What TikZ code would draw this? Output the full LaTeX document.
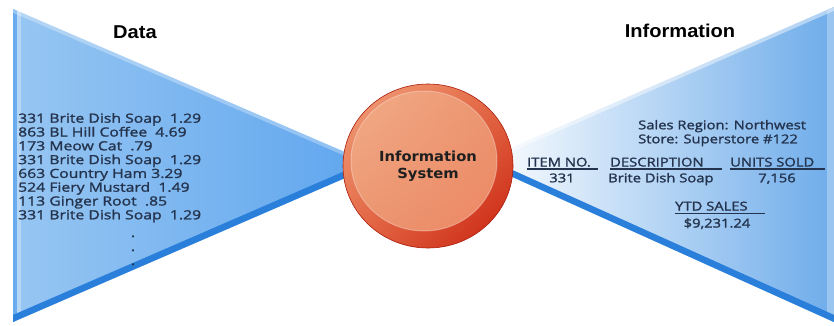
\documentclass[tikz,border=0pt]{standalone}
\usepackage{fontspec}
\usetikzlibrary{shadings}
\newfontfamily\listfont{Open Sans}[FakeStretch=1.25,FakeBold=1.6]
\newfontfamily\rlistfont{Open Sans}[FakeStretch=1.21,FakeBold=1.6]
\newfontfamily\headfont{Liberation Sans}[FakeStretch=1.08]
\newfontfamily\circfont{DejaVu Sans}[FakeStretch=1.06]
\definecolor{txtcol}{HTML}{25344E}
\definecolor{lblA}{HTML}{97C6F2}
\definecolor{lblB}{HTML}{5EA5EE}
\definecolor{bandcol}{HTML}{2A7FDB}
\definecolor{rblA}{HTML}{FFFFFF}
\definecolor{rblB}{HTML}{6EACEA}
\definecolor{ringA}{HTML}{F1A27C}
\definecolor{ringM}{HTML}{E46845}
\definecolor{ringB}{HTML}{C8200C}
\definecolor{diskA}{HTML}{F2AC88}
\definecolor{diskB}{HTML}{EB9670}
\begin{document}
\begin{tikzpicture}[x=1pt,y=-1pt,
  listtxt/.style={font=\listfont\fontsize{12.6}{14}\selectfont, text=txtcol, inner sep=0pt, anchor=base west},
  rtxt/.style={listtxt, font=\rlistfont\fontsize{12.2}{14}\selectfont},
  rc/.style={rtxt, anchor=base},
  listc/.style={listtxt, anchor=base},
  heading/.style={font=\headfont\bfseries\fontsize{18.6}{22}\selectfont, text=black, inner sep=0pt, anchor=base},
  uline/.style={draw=txtcol, line width=1.3pt}]
\useasboundingbox (0,0) rectangle (834,325);
\fill[white] (0,0) rectangle (834,325);

% ---------- left triangle (Data) ----------
\coordinate (LT) at (13,9);
\coordinate (LB) at (13,322);
\coordinate (LA) at (375,165);
\shade[left color=lblA, right color=lblB] (LT) -- (LA) -- (LB) -- cycle;
\begin{scope}
  \clip (LT) -- (LA) -- (LB) -- cycle;
  \fill[lblB!80!lblA] (13,0) rectangle (17,325);
  \fill[white, opacity=0.3] (17,0) rectangle (21,325);
  \draw[white, opacity=0.3, line width=7pt] (LT) -- (LA);
  \draw[bandcol, line width=13pt] (LB) -- (LA);
\end{scope}

% ---------- right triangle (Information) ----------
\coordinate (RT) at (834,7);
\coordinate (RB) at (834,322);
\coordinate (RA) at (479,162);
\shade[left color=rblA, right color=rblB] (RA) -- (RT) -- (RB) -- cycle;
\begin{scope}
  \clip (RA) -- (RT) -- (RB) -- cycle;
  \fill[rblB!70!white] (827,0) rectangle (834,325);
  \draw[white, opacity=0.45, line width=7pt] (RA) -- (RT);
  \draw[bandcol, line width=13pt] (RA) -- (RB);
\end{scope}

% ---------- circle ----------
\shade[upper left=ringA, upper right=ringM, lower left=ringM, lower right=ringB]
  (428,166) ellipse [x radius=85, y radius=82];
\draw[ringB!85!black, line width=0.6pt] (428,166) ellipse [x radius=85, y radius=82];
\shade[upper left=diskA, upper right=diskB, lower left=diskB, lower right=diskB!90!red]
  (424,161) ellipse [x radius=73, y radius=70];
\draw[white, opacity=0.3, line width=1pt] (424,161) ellipse [x radius=73, y radius=70];
\node[font=\circfont\bfseries\fontsize{13.9}{17}\selectfont, text=black!88, align=center, inner sep=0pt] (sys) at (428,166) {Information\\System};

% ---------- headings ----------
\node[heading] (data) at (135,38.3) {Data};
\node[heading] (info) at (680,37.3) {Information};

% ---------- data list ----------
\node[listtxt] (l1) at (18,122.7) {331 Brite Dish Soap\ \ 1.29};
\node[listtxt] (l2) at (18,136.5) {863 BL Hill Coffee\ \ 4.69};
\node[listtxt] (l3) at (18,150.3) {173 Meow Cat\ \ .79};
\node[listtxt] (l4) at (18,164.1) {331 Brite Dish Soap\ \ 1.29};
\node[listtxt] (l5) at (18,177.9) {663 Country Ham 3.29};
\node[listtxt] (l6) at (18,191.7) {524 Fiery Mustard\ \ 1.49};
\node[listtxt] (l7) at (18,205.5) {113 Ginger Root\ \ .85};
\node[listtxt] (l8) at (18,219.3) {331 Brite Dish Soap\ \ 1.29};
\node[listc] (d1) at (133,237) {.};
\node[listc] (d2) at (133,251) {.};
\node[listc] (d3) at (133,265) {.};

% ---------- information report ----------
\node[rtxt] (r1) at (638,129.3) {Sales Region: Northwest};
\node[rtxt] (r2) at (638,143.3) {Store: Superstore \#122};
\node[rtxt] (h1) at (527,166.5) {ITEM NO.};
\node[rtxt] (h2) at (610,166.5) {DESCRIPTION};
\node[rtxt] (h3) at (730,166.5) {UNITS SOLD};
\draw[uline] ([yshift=-2.5pt]h1.base west) -- ++(71,0);
\draw[uline] ([yshift=-2.5pt]h2.base west) -- ++(112,0);
\draw[uline] ([yshift=-2.5pt]h3.base west) -- ++(95,0);
\node[rc] (v1) at (562,182.3) {331};
\node[rtxt] (v2) at (608,182.3) {Brite Dish Soap};
\node[rc] (v3) at (777,182.3) {7,156};
\node[rtxt] (h4) at (675,210.5) {YTD SALES};
\draw[uline] ([yshift=-3pt]h4.base west) -- ++(90,0);
\node[rc] (v4) at (717,227.5) {\$9,231.24};
\end{tikzpicture}
\end{document}
